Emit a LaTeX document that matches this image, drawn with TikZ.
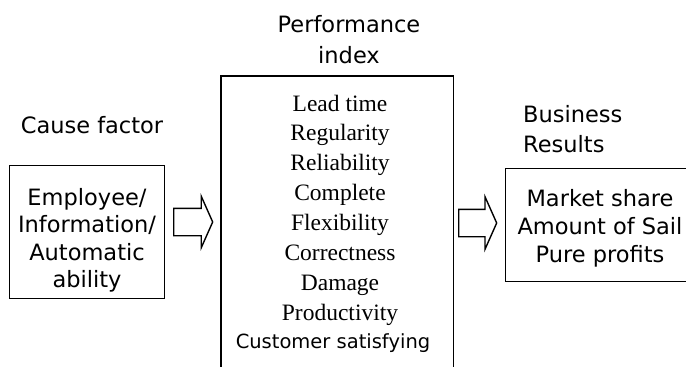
\documentclass[tikz,border=0pt]{standalone}
\usepackage{fontspec}
\setmainfont{Liberation Serif}
\setsansfont{DejaVu Sans}
\usetikzlibrary{shapes.arrows}
\tikzset{
  box/.style={draw, line width=1.4pt, rectangle, inner sep=0pt},
  lbl/.style={font=\sffamily\fontsize{22.5}{27}\selectfont, anchor=base, inner sep=0pt},
  idx/.style={font=\rmfamily\fontsize{23.5}{28}\selectfont, anchor=base, inner sep=0pt},
  blockarr/.style={draw, line width=1.4pt, single arrow, anchor=tail,
    inner xsep=0pt, inner ysep=13pt, single arrow tip angle=132}
}
\begin{document}
\begin{tikzpicture}[x=1pt, y=-1pt]
\clip (0,0) rectangle (686,367);
% three boxes
\node[box, minimum width=155pt, minimum height=133pt, anchor=north west] (cause) at (9,165) {};
\node[inner sep=0pt, minimum width=232pt, minimum height=300pt, anchor=north west] (perf) at (221,76) {};
\draw[line width=1.4pt] (perf.south west) |- (perf.north east) -- (perf.south east);
\node[box, minimum width=195pt, minimum height=113pt, anchor=north west] (result) at (505,168) {};
% titles
\node[lbl] (causet) at (92,133) {Cause factor};
\node[lbl] (perft1) at (349,32) {Performance};
\node[lbl] (perft2) at (349,63) {index};
\node[lbl, anchor=base west] (rest1) at (523,122) {Business};
\node[lbl, anchor=base west] (rest2) at (523,152) {Results};
% box contents
\foreach \t [count=\i] in {Employee/, Information/, Automatic, ability}
  \node[lbl] (ca\i) at (87,{205+27.5*(\i-1)}) {\t};
\foreach \t [count=\i] in {Lead time, Regularity, Reliability, Complete, Flexibility, Correctness, Damage, Productivity}
  \node[idx] (pi\i) at (340,{111+29.9*(\i-1)}) {\t};
\node[lbl, font=\sffamily\fontsize{19.5}{24}\selectfont] (pi9) at (333,348) {Customer satisfying};
\foreach \t [count=\i] in {Market share, Amount of Sail, Pure profits}
  \node[lbl] (re\i) at (600,{206+28*(\i-1)}) {\t};
% block arrows
\node[blockarr, minimum height=39pt, single arrow head extend=12pt] (arrA) at (173,222) {};
\node[blockarr, minimum height=38pt, single arrow head extend=12.5pt] (arrB) at (458,223) {};
\end{tikzpicture}
\end{document}
